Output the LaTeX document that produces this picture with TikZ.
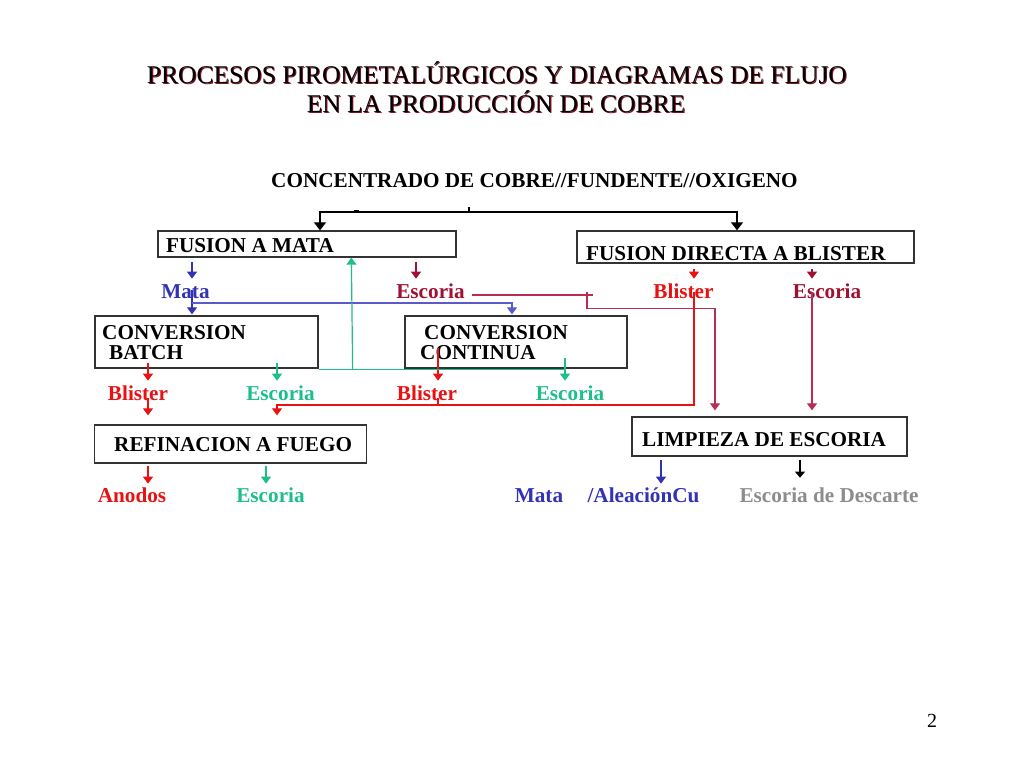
\documentclass[tikz,border=0pt]{standalone}
\usepackage{fontspec}
\setmainfont{Liberation Serif}
\usetikzlibrary{arrows.meta,calc}
\definecolor{matablue}{RGB}{50,50,180}
\definecolor{matalinea}{RGB}{90,90,205}
\definecolor{escrojo}{RGB}{160,16,48}
\definecolor{escrlinea}{RGB}{185,45,85}
\definecolor{blisrojo}{RGB}{232,18,18}
\definecolor{escverde}{RGB}{30,190,140}
\definecolor{descgris}{RGB}{140,140,140}
\definecolor{sombra}{RGB}{125,15,35}
\tikzstyle{titletxt}=[anchor=base, inner sep=0pt, font=\fontsize{25.5}{30}\selectfont]
\tikzstyle{procbox}=[draw=black!80, line width=1.3pt, fill=white, inner sep=0pt]
\tikzstyle{boxtext}=[anchor=base west, inner sep=0pt, font=\bfseries\fontsize{21.2}{24}\selectfont]
\tikzstyle{lbl}=[anchor=base, inner sep=0pt, font=\bfseries\fontsize{21.2}{24}\selectfont]
\tikzstyle{flow}=[line width=1.2pt, -{Triangle[width=10pt,length=7pt]}]

\begin{document}
\begin{tikzpicture}[x=1pt,y=-1pt]
    \useasboundingbox (0,0) rectangle (1024,768);
    % titulo con sombra
    \node[titletxt, text=sombra] (tit1s) at (498,84) {PROCESOS PIROMETALÚRGICOS Y DIAGRAMAS DE FLUJO};
    \node[titletxt] (tit1) at (497,83) {PROCESOS PIROMETALÚRGICOS Y DIAGRAMAS DE FLUJO};
    \node[titletxt, text=sombra] (tit2s) at (497,113) {EN LA PRODUCCIÓN DE COBRE};
    \node[titletxt] (tit2) at (496,112) {EN LA PRODUCCIÓN DE COBRE};
    \node[boxtext] (conc) at (271,187) {CONCENTRADO DE COBRE//FUNDENTE//OXIGENO};

    % cajas
    \node[procbox, minimum width=298, minimum height=26] (fam) at (307,244) {};
    \node[procbox, minimum width=337, minimum height=32] (fdb) at (745.5,247) {};
    \node[procbox, minimum width=223, minimum height=52] (cbatch) at (206.5,342) {};
    \node[procbox, minimum width=222, minimum height=52] (ccont) at (516,342) {};
    \node[procbox, minimum width=272, minimum height=38] (refin) at (230.5,444) {};
    \node[procbox, minimum width=275, minimum height=39] (limp) at (769.5,436.5) {};
    \node[boxtext] (famt) at (166,252) {FUSION A MATA};
    \node[boxtext] (fdbt) at (586,260) {FUSION DIRECTA A BLISTER};
    \node[boxtext] (cbatcht) at (102,339) {CONVERSION};
    \node[boxtext] (cbatchu) at (109,359) {BATCH};
    \node[boxtext] (ccontt) at (424,339) {CONVERSION};
    \node[boxtext] (ccontu) at (420,359) {CONTINUA};
    \node[boxtext] (refint) at (114,451) {REFINACION A FUEGO};
    \node[boxtext] (limpt) at (642,446) {LIMPIEZA DE ESCORIA};

    % productos
    \node[lbl, text=matablue] (mata1) at (185.5,298) {Mata};
    \node[lbl, text=escrojo] (esc1) at (430.5,298) {Escoria};
    \node[lbl, text=blisrojo] (blis1) at (683.5,298) {Blister};
    \node[lbl, text=escrojo] (esc2) at (827,298) {Escoria};
    \node[lbl, text=blisrojo] (blis2) at (138,400) {Blister};
    \node[lbl, text=escverde] (esc3) at (280.5,400) {Escoria};
    \node[lbl, text=blisrojo] (blis3) at (427,400) {Blister};
    \node[lbl, text=escverde] (esc4) at (570,400) {Escoria};
    \node[lbl, text=blisrojo] (anod) at (132,502) {Anodos};
    \node[lbl, text=escverde] (esc5) at (270.5,502) {Escoria};
    \node[lbl, text=matablue] (mata2) at (539,502) {Mata};
    \node[lbl, text=matablue] (aleac) at (643.5,502) {/AleaciónCu};
    \node[lbl, text=descgris] (desc) at (829,502) {Escoria de Descarte};
    \node[titletxt, font=\fontsize{20}{24}\selectfont] (pnum) at (932,727) {2};

    % alimentacion
    \coordinate (split) at (469,212);
    \draw[line width=1.2pt] (split) -- ++(0,-5);
    \draw[line width=2pt] (354,210.5) -- (359,210.5);
    \draw[flow, -{Triangle[width=12pt,length=8pt]}] (split) -| ([xshift=13pt]fam.north);
    \draw[flow, -{Triangle[width=12pt,length=8pt]}] (split) -| ([xshift=-8.5pt]fdb.north);

    % salidas cortas
    \draw[flow, matablue] ($(fam.south -| mata1)+(6.5,4)$) -- ++(0,17);
    \draw[flow, escrojo] ($(fam.south -| esc1)+(-14.5,4)$) -- ++(0,17);
    \draw[flow, blisrojo] ($(fdb.south -| blis1)+(10.5,5)$) -- ++(0,10);
    \draw[flow, escrojo] ($(fdb.south -| esc2)+(-15,5)$) -- ++(0,10);
    \draw[flow, blisrojo] ($(cbatch.south -| blis2)+(10,-6)$) -- ++(0,18);
    \draw[flow, escverde] ($(cbatch.south -| esc3)+(-3.5,-6)$) -- ++(0,18);
    \draw[flow, blisrojo] ($(ccont.south -| blis3)+(11,-21)$) -- ++(0,33);
    \draw[flow, escverde] ($(ccont.south -| esc4)+(-5,-11)$) -- ++(0,23);
    \draw[flow, blisrojo] ($(blis2.base)+(10,-2)$) -- ($(refin.north -| blis2)+(10,-9)$);
    \draw[flow, blisrojo] ($(refin.south -| anod)+(16,2)$) -- ++(0,18);
    \draw[flow, escverde] ($(refin.south -| esc5)+(-4.5,2)$) -- ++(0,18);
    \draw[flow, matablue] ($(limp.south -| aleac)+(17.5,3)$) -- ++(0,24);
    \draw[flow, -{Triangle[width=10pt,length=6pt]}] ($(limp.south -| desc)+(-29,3)$) -- ++(0,18);

    % mata a conversion
    \draw[flow, matablue] ($(mata1.base)+(6.5,-8)$) -- ($(cbatch.north -| mata1)+(6.5,-1)$);
    \draw[flow, matalinea] ($(mata1.base)+(6.5,5)$) -| ($(ccont.north)+(-4,-1)$);

    % escoria de conversion a fusion
    \draw[line width=1.2pt, escverde] ($(cbatch.south east)+(0,1)$) -- ($(ccont.south -| esc4)+(-5,1)$);
    \draw[flow, escverde] ($(cbatch.south east)+(34,1)$) -- ($(fam.south west)+(194,0)$);

    % blister a refinacion
    \draw[flow, blisrojo] ($(blis1.base)+(10.5,-6)$) |- ($(esc3.base)+(-3.5,5)$) -- ($(refin.north -| esc3)+(-3.5,-9)$);
    \draw[line width=1.2pt, blisrojo] ($(blis3.base)+(11,-2)$) -- ++(0,7);

    % escorias a limpieza
    \draw[line width=1.2pt, escrlinea] ($(esc1.base)+(41.5,-3)$) -- ++(121,0);
    \draw[flow, escrlinea] ($(esc1.base)+(156.5,-6)$) |- ($(limp.north)+(-54.5,-108)$) -- ($(limp.north)+(-54.5,-6)$);
    \draw[flow, escrlinea] ($(esc2.base)+(-15,-6)$) -- ($(limp.north -| esc2)+(-15,-6)$);
\end{tikzpicture}
\end{document}
